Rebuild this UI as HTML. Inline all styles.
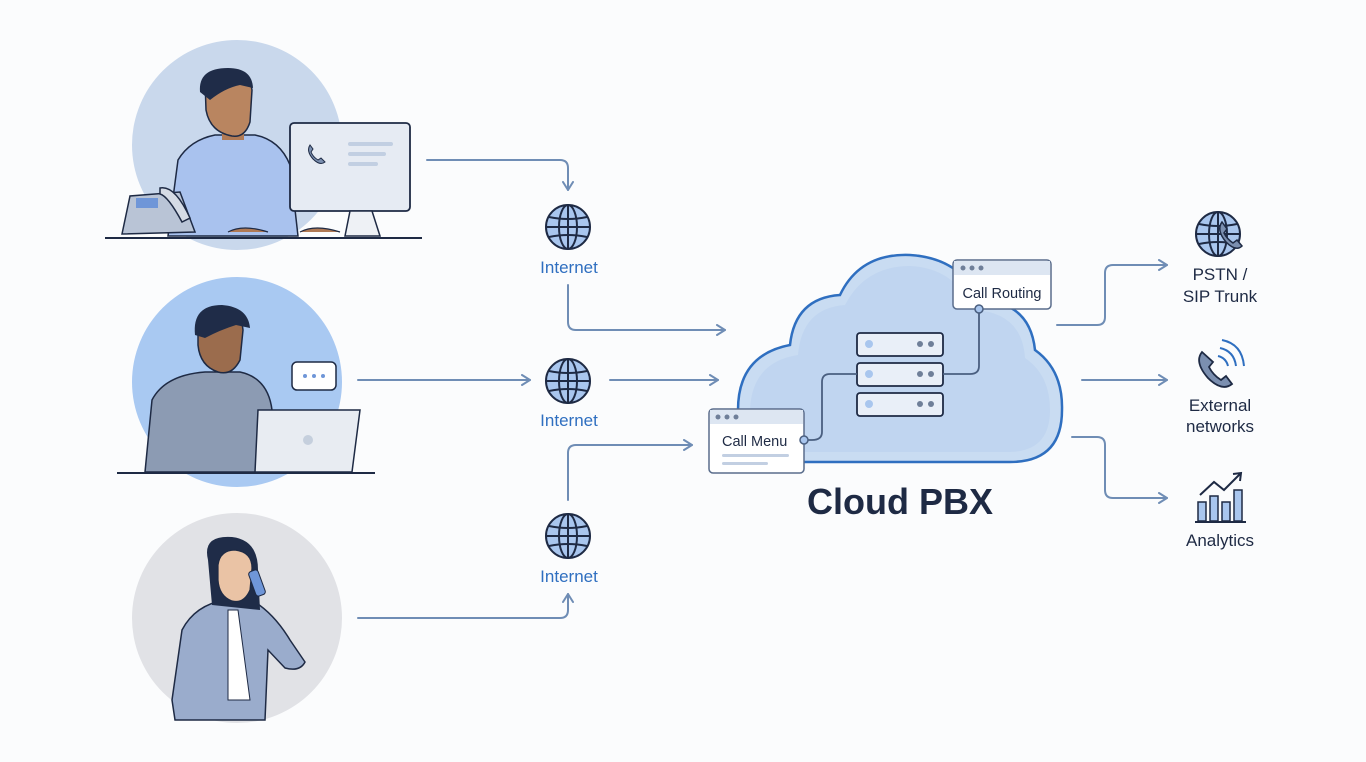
<!DOCTYPE html>
<html><head><meta charset="utf-8"><style>
html,body{margin:0;padding:0;background:#fbfcfd;}
svg{display:block;}
text{font-family:"Liberation Sans",sans-serif;}
</style></head><body>
<svg width="1366" height="762" viewBox="0 0 1366 762" xmlns="http://www.w3.org/2000/svg">
<defs>
<marker id="ah" markerWidth="12" markerHeight="12" refX="10" refY="6" orient="auto" markerUnits="userSpaceOnUse">
<path d="M2,1 L10,6 L2,11" fill="none" stroke="#6f8db5" stroke-width="2" stroke-linecap="round" stroke-linejoin="round"/>
</marker>
<g id="globe">
<circle cx="0" cy="0" r="22" fill="#a9c6ee" stroke="#1e2a44" stroke-width="2"/>
<ellipse cx="0" cy="0" rx="9" ry="22" fill="none" stroke="#1e2a44" stroke-width="2"/>
<line x1="0" y1="-22" x2="0" y2="22" stroke="#1e2a44" stroke-width="2"/>
<line x1="-22" y1="0" x2="22" y2="0" stroke="#1e2a44" stroke-width="2"/>
<path d="M-19,-10 Q0,-6 19,-10 M-19,10 Q0,6 19,10" fill="none" stroke="#1e2a44" stroke-width="2"/>
</g>
</defs>
<rect width="1366" height="762" fill="#fbfcfd"/>

<!-- person 1 -->
<circle cx="237" cy="145" r="105" fill="#c9d8ec"/>
<path d="M168,236 L178,160 Q190,140 215,135 L255,135 Q280,140 290,165 L298,236 Z" fill="#a9c2ee" stroke="#1e2a44" stroke-width="1.5"/>
<rect x="222" y="110" width="22" height="30" fill="#b07a55"/>
<path d="M205,80 Q205,70 225,70 Q250,72 252,90 L250,122 Q245,138 232,136 Q210,132 206,110 Z" fill="#b98560" stroke="#1e2a44" stroke-width="1.5"/>
<path d="M200,92 Q198,68 228,68 Q252,68 253,88 L240,85 Q225,88 210,100 Z" fill="#1f2c48"/>
<rect x="290" y="123" width="120" height="88" rx="4" fill="#e6ebf3" stroke="#1e2a44" stroke-width="1.8"/>
<path d="M310,145 q-4,6 3,14 q7,7 12,3 l-4,-4 l-3,2 q-5,-3 -7,-8 l2,-3 z" fill="#7b8fb0" stroke="#1e2a44" stroke-width="1"/>
<rect x="348" y="142" width="45" height="4" rx="2" fill="#c2cfe2"/><rect x="348" y="152" width="38" height="4" rx="2" fill="#c2cfe2"/><rect x="348" y="162" width="30" height="4" rx="2" fill="#c2cfe2"/>
<path d="M350,211 L372,211 L380,236 L345,236 Z" fill="#eef1f5" stroke="#1e2a44" stroke-width="1.5"/>
<path d="M122,234 L130,196 L180,192 L195,232 Z" fill="#b9c4d6" stroke="#1e2a44" stroke-width="1.5"/>
<rect x="136" y="198" width="22" height="10" fill="#6f96d8"/>
<path d="M160,188 q15,-3 30,30 l-8,4 q-14,-26 -22,-28 z" fill="#d5dbe5" stroke="#1e2a44" stroke-width="1.5"/>
<path d="M228,232 q15,-8 40,0 M300,232 q15,-8 40,0" stroke="#1e2a44" fill="#b07a55" stroke-width="1.2"/>
<line x1="105" y1="238" x2="422" y2="238" stroke="#1e2a44" stroke-width="2"/>

<!-- person 2 -->
<circle cx="237" cy="382" r="105" fill="#a9c9f2"/>
<path d="M145,472 L152,400 Q165,375 205,372 L240,372 Q268,378 272,410 L275,472 Z" fill="#8c9bb3" stroke="#1e2a44" stroke-width="1.5"/>
<path d="M198,325 Q200,310 220,310 Q242,312 243,330 L240,360 Q232,376 218,372 Q200,366 198,345 Z" fill="#9b6c4d" stroke="#1e2a44" stroke-width="1.5"/>
<path d="M195,335 Q192,305 222,305 Q248,307 250,328 L236,325 Q220,330 205,338 Z" fill="#1f2c48"/>
<path d="M258,410 L360,410 L352,472 L255,472 Z" fill="#e8ecf2" stroke="#1e2a44" stroke-width="1.5"/>
<circle cx="308" cy="440" r="5" fill="#c5cfdd"/>
<rect x="292" y="362" width="44" height="28" rx="5" fill="#fff" stroke="#1e2a44" stroke-width="1.5"/>
<circle cx="305" cy="376" r="2" fill="#6f96d8"/><circle cx="314" cy="376" r="2" fill="#6f96d8"/><circle cx="323" cy="376" r="2" fill="#6f96d8"/>
<line x1="117" y1="473" x2="375" y2="473" stroke="#1e2a44" stroke-width="2"/>

<!-- person 3 -->
<circle cx="237" cy="618" r="105" fill="#e1e2e6"/>
<path d="M172,700 L182,630 Q195,605 225,600 L255,602 Q275,615 290,640 L305,662 Q300,672 285,668 L268,650 L265,720 L175,720 Z" fill="#9aaccc" stroke="#1e2a44" stroke-width="1.5"/>
<path d="M228,610 L238,610 L250,700 L228,700 Z" fill="#fff" stroke="#1e2a44" stroke-width="1"/>
<path d="M208,560 Q202,535 232,537 Q258,540 258,570 L260,610 L212,605 Z" fill="#1f2c48"/>
<path d="M218,565 Q220,550 235,550 Q252,552 252,568 L250,590 Q244,604 232,601 Q219,596 218,580 Z" fill="#eac3a5" stroke="#1e2a44" stroke-width="1.2"/>
<rect x="252" y="570" width="10" height="26" rx="3" fill="#6f96d8" stroke="#1e2a44" stroke-width="1" transform="rotate(-20 257 583)"/>

<!-- connectors -->
<g fill="none" stroke="#6f8db5" stroke-width="2" stroke-linecap="round" stroke-linejoin="round">
<path d="M427,160 L560,160 Q568,160 568,168 L568,190" marker-end="url(#ah)"/>
<path d="M568,285 L568,322 Q568,330 576,330 L725,330" marker-end="url(#ah)"/>
<path d="M358,380 L530,380" marker-end="url(#ah)"/>
<path d="M610,380 L718,380" marker-end="url(#ah)"/>
<path d="M358,618 L560,618 Q568,618 568,610 L568,594" marker-end="url(#ah)"/>
<path d="M568,500 L568,453 Q568,445 576,445 L692,445" marker-end="url(#ah)"/>
<path d="M1057,325 L1097,325 Q1105,325 1105,317 L1105,273 Q1105,265 1113,265 L1167,265" marker-end="url(#ah)"/>
<path d="M1082,380 L1167,380" marker-end="url(#ah)"/>
<path d="M1072,437 L1097,437 Q1105,437 1105,445 L1105,490 Q1105,498 1113,498 L1167,498" marker-end="url(#ah)"/>
</g>

<use href="#globe" x="568" y="227"/>
<use href="#globe" x="568" y="381"/>
<use href="#globe" x="568" y="536"/>
<g font-size="17" fill="#2f6fc0" text-anchor="middle">
<text x="569" y="273">Internet</text>
<text x="569" y="426">Internet</text>
<text x="569" y="582">Internet</text>
</g>

<!-- cloud -->
<path d="M790,462 Q738,462 738,410 Q738,355 790,345 Q795,298 840,295 Q860,253 910,255 Q960,258 980,300 Q1030,302 1035,350 Q1063,370 1062,410 Q1062,462 1010,462 Z" fill="#c9dcf2" stroke="#2f6fc0" stroke-width="2.5"/>
<path d="M792,452 Q750,450 750,410 Q752,362 798,355 Q802,308 845,305 Q865,266 910,266 Q955,268 973,310 Q1022,312 1025,358 Q1050,375 1050,410 Q1050,452 1008,452 Z" fill="#bad1ef" opacity="0.6"/>

<g stroke="#1e2a44" stroke-width="1.8">
<rect x="857" y="333" width="86" height="23" rx="3" fill="#e9eff8"/>
<rect x="857" y="363" width="86" height="23" rx="3" fill="#e9eff8"/>
<rect x="857" y="393" width="86" height="23" rx="3" fill="#e9eff8"/>
</g>
<g fill="#a9c6ee"><circle cx="869" cy="344" r="4"/><circle cx="869" cy="374" r="4"/><circle cx="869" cy="404" r="4"/></g>
<g fill="#6f7f99"><circle cx="920" cy="344" r="3"/><circle cx="931" cy="344" r="3"/><circle cx="920" cy="374" r="3"/><circle cx="931" cy="374" r="3"/><circle cx="920" cy="404" r="3"/><circle cx="931" cy="404" r="3"/></g>
<path d="M857,374 L830,374 Q822,374 822,382 L822,432 Q822,440 812,440 L808,440" fill="none" stroke="#4a5f80" stroke-width="1.8"/>
<path d="M943,374 L970,374 Q979,374 979,366 L979,310" fill="none" stroke="#4a5f80" stroke-width="1.8"/>

<rect x="953" y="260" width="98" height="49" rx="4" fill="#fff" stroke="#5a6d8c" stroke-width="1.5"/>
<rect x="954" y="261" width="96" height="14" fill="#dde6f2"/>
<g fill="#6f7f99"><circle cx="963" cy="268" r="2.5"/><circle cx="972" cy="268" r="2.5"/><circle cx="981" cy="268" r="2.5"/></g>
<text x="1002" y="298" font-size="14.5" fill="#1e2a44" text-anchor="middle">Call Routing</text>
<circle cx="979" cy="309" r="4" fill="#a9c6ee" stroke="#4a5f80" stroke-width="1.5"/>

<rect x="709" y="409" width="95" height="64" rx="4" fill="#fff" stroke="#5a6d8c" stroke-width="1.5"/>
<rect x="710" y="410" width="93" height="14" fill="#dde6f2"/>
<g fill="#6f7f99"><circle cx="718" cy="417" r="2.5"/><circle cx="727" cy="417" r="2.5"/><circle cx="736" cy="417" r="2.5"/></g>
<text x="722" y="446" font-size="14.5" fill="#1e2a44">Call Menu</text>
<rect x="722" y="454" width="67" height="3" rx="1.5" fill="#c2cfe2"/><rect x="722" y="462" width="46" height="3" rx="1.5" fill="#c2cfe2"/>
<circle cx="804" cy="440" r="4" fill="#a9c6ee" stroke="#4a5f80" stroke-width="1.5"/>

<text x="900" y="514" font-size="36" font-weight="bold" fill="#1e2a44" text-anchor="middle">Cloud PBX</text>

<!-- right icons -->
<use href="#globe" x="1218" y="234"/>
<path d="M1222,222 q-6,8 4,20 q10,10 16,4 l-5,-6 l-4,3 q-6,-4 -9,-10 l3,-4 z" fill="#7b8fb0" stroke="#1e2a44" stroke-width="1.5"/>
<path d="M1202,352 q-8,10 6,26 q14,14 24,6 l-6,-8 l-5,4 q-8,-5 -12,-13 l4,-5 z" fill="#7b8fb0" stroke="#1e2a44" stroke-width="1.8"/>
<path d="M1218,356 q8,2 10,10 M1220,348 q14,3 16,18 M1222,340 q20,4 22,26" fill="none" stroke="#2f6fc0" stroke-width="2"/>
<g stroke="#1e2a44" stroke-width="1.5" fill="#a9c6ee">
<rect x="1198" y="502" width="8" height="19"/><rect x="1210" y="496" width="8" height="25"/><rect x="1222" y="502" width="8" height="19"/><rect x="1234" y="490" width="8" height="31"/>
</g>
<line x1="1195" y1="522" x2="1246" y2="522" stroke="#1e2a44" stroke-width="2"/>
<path d="M1200,495 L1214,482 L1224,490 L1240,474 M1233,474 L1241,473 L1240,481" fill="none" stroke="#1e2a44" stroke-width="2"/>
<g font-size="17" fill="#1e2a44" text-anchor="middle">
<text x="1220" y="280">PSTN /</text>
<text x="1220" y="302">SIP Trunk</text>
<text x="1220" y="411">External</text>
<text x="1220" y="432">networks</text>
<text x="1220" y="546">Analytics</text>
</g>
</svg>
</body></html>
